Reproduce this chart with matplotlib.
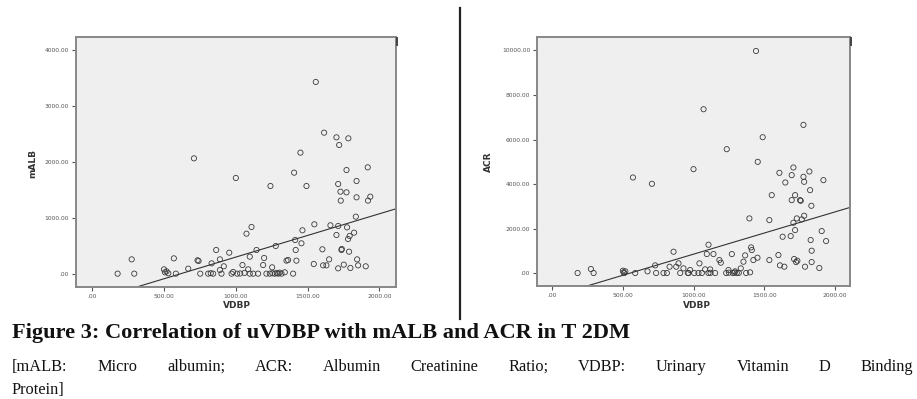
import matplotlib
matplotlib.use("Agg")
import matplotlib.pyplot as plt
from matplotlib.lines import Line2D

# --- left panel: mALB vs VDBP ---
malb_x = [176, 274, 292, 499, 506, 517, 529, 568, 582, 668,
          708, 733, 740, 752, 807, 831, 842, 863, 889, 889,
          900, 916, 954, 970, 981, 1000, 1009, 1046, 1074, 1086,
          1097, 1097, 1109, 1121, 1144, 1155, 1190, 1197, 1213, 1241,
          1253, 1237, 1271, 1278, 1295, 1318, 1341, 1353, 1364, 1399,
          1406, 1413, 1417, 1422, 1450, 1457, 1464, 1492, 1543, 1547,
          1557, 1603, 1615, 1608, 1631, 1650, 1659, 1701, 1701, 1713,
          1713, 1713, 1720, 1729, 1731, 1736, 1738, 1752, 1771, 1771,
          1775, 1784, 1782, 1789, 1793, 1798, 1824, 1836, 1841, 1841,
          1845, 1852, 1905, 1919, 1921, 1937,
          1255, 1285, 1305, 825, 1030, 1060]
malb_y = [12, 267, 12, 89, 36, 53, 18, 285, 12, 101,
          2068, 250, 238, 12, 12, 196, 12, 434, 267, 77,
          12, 143, 386, 12, 42, 1718, 12, 166, 725, 89,
          315, 12, 844, 12, 434, 12, 166, 291, 12, 1575,
          125, 12, 12, 505, 12, 12, 36, 244, 256, 12,
          1813, 612, 434, 244, 2170, 553, 785, 1575, 184, 892,
          3430, 446, 2526, 160, 160, 267, 874, 2443, 701, 862,
          1611, 107, 2306, 1474, 1314, 434, 452, 172, 1462, 1860,
          838, 2425, 630, 404, 684, 113, 743, 1028, 1664, 1373,
          267, 160, 143, 1908, 1314, 1385,
          20, 25, 30, 20, 15, 25]
malb_fit = (0.772, -464.5)  # slope, intercept of the fit line

# --- right panel: ACR vs VDBP ---
acr_x = [181, 275, 294, 501, 506, 518, 511, 572, 588, 675,
         706, 729, 736, 788, 812, 831, 859, 878, 894, 906,
         929, 965, 976, 1000, 1005, 1035, 1042, 1059, 1071, 1082,
         1094, 1106, 1106, 1118, 1141, 1153, 1183, 1193, 1235, 1231,
         1247, 1271, 1278, 1294, 1306, 1334, 1353, 1365, 1372, 1395,
         1400, 1407, 1412, 1423, 1442, 1452, 1454, 1489, 1536, 1536,
         1553, 1600, 1607, 1611, 1630, 1642, 1649, 1687, 1694, 1694,
         1706, 1706, 1711, 1718, 1718, 1725, 1730, 1734, 1753, 1758,
         1765, 1777, 1777, 1782, 1782, 1788, 1819, 1824, 1828, 1833,
         1835, 1835, 1889, 1906, 1918, 1937,
         1250, 1290, 1320, 960, 1120]
acr_y = [15, 194, 15, 119, 45, 90, 15, 4298, 15, 90,
         4015, 358, 15, 15, 15, 298, 970, 298, 448, 15,
         224, 15, 149, 4671, 15, 15, 448, 15, 7358, 179,
         866, 1284, 15, 179, 866, 15, 597, 478, 5567, 15,
         149, 866, 15, 90, 15, 224, 522, 806, 15, 2463,
         45, 1164, 1045, 597, 9970, 701, 5000, 6104, 2388, 597,
         3507, 821, 4507, 358, 1642, 298, 4074, 1672, 4403, 3284,
         4746, 2269, 642, 3507, 1940, 507, 2463, 567, 3284, 3254,
         2418, 4328, 6657, 4105, 2582, 298, 4567, 3731, 1493, 3030,
         1015, 507, 239, 1896, 4179, 1448,
         30, 40, 20, 20, 25]
acr_fit = (1.895, -1035.0)

x_ticks = [0, 500, 1000, 1500, 2000]
malb_ticks = [0, 1000, 2000, 3000, 4000]
acr_ticks = [0, 2000, 4000, 6000, 8000, 10000]

title = "Figure 3: Correlation of uVDBP with mALB and ACR in T 2DM"
note1 = "[mALB: Micro albumin; ACR: Albumin Creatinine Ratio; VDBP: Urinary Vitamin D Binding"
note2 = "Protein]"

W, H = 917, 399
fig = plt.figure(figsize=(W / 100, H / 100), dpi=100)
fig.patch.set_facecolor("white")


def px_axes(x0, y0, x1, y1):
    return fig.add_axes([x0 / W, 1 - y1 / H, (x1 - x0) / W, (y1 - y0) / H])


def spss_label(v):
    s = f"{v:.2f}"
    return ".00" if v == 0 else s


def panel(ax, xs, ys, fit, xlim, ylim, yticks):
    ax.set_facecolor("#efefef")
    ax.scatter(xs, ys, s=14, facecolors="none", edgecolors="#3a3a3a",
               linewidths=0.6, zorder=3)
    slope, icpt = fit
    ax.plot(list(xlim), [slope * xlim[0] + icpt, slope * xlim[1] + icpt],
            color="#333333", lw=0.8, zorder=2)
    ax.set_xlim(*xlim)
    ax.set_ylim(*ylim)
    ax.set_xticks(x_ticks)
    ax.set_xticklabels([spss_label(v) for v in x_ticks])
    ax.set_yticks(yticks)
    ax.set_yticklabels([spss_label(v) for v in yticks])
    ax.tick_params(length=3, width=0.8, color="#555555", labelsize=4.3,
                   labelcolor="#555555", pad=2)
    for s in ax.spines.values():
        s.set_color("#878787")
        s.set_linewidth(1.4)


ax1 = px_axes(76, 37, 396, 287)
panel(ax1, malb_x, malb_y, malb_fit, (-114, 2116), (-226, 4232), malb_ticks)
ax2 = px_axes(537, 37, 850, 286)
panel(ax2, acr_x, acr_y, acr_fit, (-106, 2106), (-567, 10597), acr_ticks)

lab = dict(fontsize=6.5, fontweight="bold", color="#333333",
           ha="center", va="center")
fig.text(33 / W, 1 - 163 / H, "mALB", rotation=90, **lab)
fig.text(237 / W, 1 - 306 / H, "VDBP", **lab)
fig.text(488 / W, 1 - 162 / H, "ACR", rotation=90, **lab)
fig.text(697 / W, 1 - 306 / H, "VDBP", **lab)

# small dark notch at the top-right corner of each SPSS frame
for cx in (397, 851):
    fig.add_artist(Line2D([cx / W, cx / W], [1 - 38 / H, 1 - 45 / H],
                          color="#444444", lw=1.4))

# divider between the two panels
fig.add_artist(Line2D([460 / W, 460 / W], [1 - 8 / H, 1 - 319 / H],
                      color="#222222", lw=1.6))

# caption
fig.canvas.draw()
r = fig.canvas.get_renderer()
serif = "Liberation Serif"
t = fig.text(12 / W, 1 - 338 / H, title, fontsize=14, fontweight="bold",
             family=serif, va="baseline", color="#111111")
w = t.get_window_extent(r).width
t.set_fontsize(14 * 620 / w)

words = note1.split()
arts = [fig.text(0, 1 - 371 / H, wd, fontsize=11.8, family=serif,
                 va="baseline", color="#111111") for wd in words]
widths = [a.get_window_extent(r).width for a in arts]
gap = (913 - 12 - sum(widths)) / (len(words) - 1)
xpos = 12
for a, wd in zip(arts, widths):
    a.set_x(xpos / W)
    xpos += wd + gap
fig.text(12 / W, 1 - 394 / H, note2, fontsize=11.8, family=serif,
         va="baseline", color="#111111")

fig.savefig("out.png", dpi=100)
